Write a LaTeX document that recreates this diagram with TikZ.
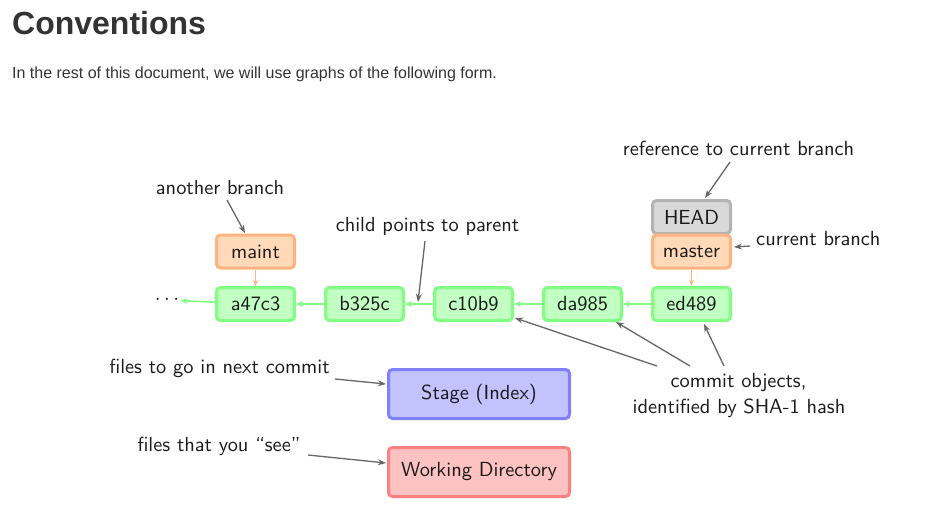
\documentclass[tikz,border=0pt]{standalone}
\usepackage{fontspec}
\newfontfamily\helv{Liberation Sans}
\newfontfamily\diag{lmsans10-regular}[Extension=.otf]
\usetikzlibrary{arrows.meta}
\definecolor{txt}{HTML}{1A1A1A}
\definecolor{hd}{HTML}{333333}
\definecolor{ann}{HTML}{666666}
\definecolor{gfill}{HTML}{C2FFC2}
\definecolor{gline}{HTML}{80FF80}
\definecolor{ofill}{HTML}{FFD9B8}
\definecolor{oline}{HTML}{FFB380}
\definecolor{hfill}{HTML}{D9D9D9}
\definecolor{hline}{HTML}{B3B3B3}
\definecolor{bfill}{HTML}{C2C2FF}
\definecolor{bline}{HTML}{8080FF}
\definecolor{rfill}{HTML}{FFC2C2}
\definecolor{rline}{HTML}{FF8080}
\tikzset{
  dfont/.style={font=\diag\fontsize{20.4}{24}\selectfont},
  box/.style={draw, line width=3pt, rounded corners=4pt, minimum width=78pt, minimum height=33pt, inner sep=0pt, text=txt, dfont},
  commit/.style={box, fill=gfill, draw=gline},
  branch/.style={box, fill=ofill, draw=oline},
  headbox/.style={box, fill=hfill, draw=hline},
  area/.style={box, minimum width=181pt, minimum height=49pt},
  lab/.style={anchor=base, text=txt, inner sep=0pt, dfont},
  annarrow/.style={draw=ann, line width=1.3pt, -{Stealth[length=8pt,width=6pt]}},
  parent/.style={draw=gline, line width=1.6pt, -{Stealth[length=7pt,width=6pt]}},
  bref/.style={draw=oline, line width=1.8pt, -{Stealth[length=6pt,width=5pt]}},
}
\begin{document}
\begin{tikzpicture}[x=1pt,y=-1pt]
\useasboundingbox (0,0) rectangle (944,528);
% heading
\node[anchor=base west, inner sep=0pt, text=hd, font=\helv\bfseries\fontsize{32}{36}\selectfont] (title) at (12,34) {Conventions};
\node[anchor=base west, inner sep=0pt, text=hd, font=\helv\fontsize{16}{18}\selectfont] (intro) at (12,78) {In the rest of this document, we will use graphs of the following form.};
% commits
\node[commit] (a) at (255.5,304) {a47c3};
\node[commit] (b) at (364.5,304) {b325c};
\node[commit] (c) at (473.5,304) {c10b9};
\node[commit] (d) at (582.5,304) {da985};
\node[commit] (e) at (691.5,304) {ed489};
\node[text=txt, inner sep=1pt, dfont] (dots) at (167,300) {\(\cdots\)};
% branches
\node[branch] (maint) at (255.5,251.5) {maint};
\node[headbox] (head) at (691.5,217) {HEAD};
\node[branch] (master) at (691.5,251.5) {master};
% areas
\node[area, fill=bfill, draw=bline] (stage) at (479,394) {Stage (Index)};
\node[area, fill=rfill, draw=rline] (wd) at (479,472) {Working Directory};
% parent links
\draw[parent] (e) -- (d);
\draw[parent] (d) -- (c);
\draw[parent] (c) -- (b);
\draw[parent] (b) -- (a);
\draw[parent] (a) -- (dots);
\draw[bref] (maint) -- (a);
\draw[bref] (master) -- (e);
% labels
\node[lab] (lref) at (738.5,155) {reference to current branch};
\node[lab] (lanother) at (220,194) {another branch};
\node[lab] (lchild) at (427.5,231) {child points to parent};
\node[lab, anchor=base west] (lcur) at (756,245) {current branch};
\node[lab] (lobj1) at (738.5,387) {commit objects,};
\node[lab] (lobj2) at (739,413) {identified by SHA-1 hash};
\node[lab] (lnext) at (219.5,373) {files to go in next commit};
\node[lab] (lsee) at (219,451) {files that you “see”};
% annotation arrows
\coordinate (r1) at (730,162); \coordinate (r2) at (705,198);
\draw[annarrow] (r1) -- (r2);
\coordinate (cb1) at (750,246); \coordinate (cb2) at (734,247);
\draw[annarrow] (cb1) -- (cb2);
\coordinate (an1) at (227,200); \coordinate (an2) at (245,233);
\draw[annarrow] (an1) -- (an2);
\coordinate (ch1) at (425,241); \coordinate (ch2) at (418,302);
\draw[annarrow] (ch1) -- (ch2);
\coordinate (o1) at (657,366); \coordinate (o1e) at (515,318);
\coordinate (o2) at (690,366); \coordinate (o2e) at (616,322);
\coordinate (o3) at (724,366); \coordinate (o3e) at (704,324);
\draw[annarrow] (o1) -- (o1e);
\draw[annarrow] (o2) -- (o2e);
\draw[annarrow] (o3) -- (o3e);
\coordinate (n1) at (335,379); \coordinate (n2) at (386,384);
\draw[annarrow] (n1) -- (n2);
\coordinate (s1) at (308,455); \coordinate (s2) at (386,463);
\draw[annarrow] (s1) -- (s2);
\end{tikzpicture}
\end{document}
